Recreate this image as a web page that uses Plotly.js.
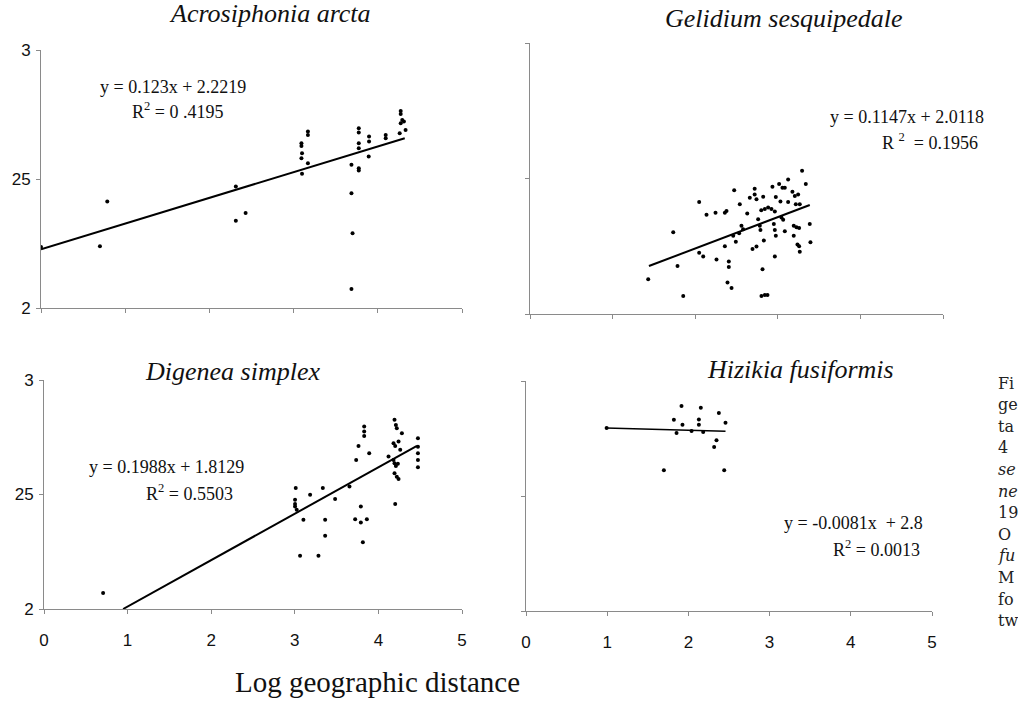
<!DOCTYPE html>
<html><head><meta charset="utf-8">
<script src="https://cdn.plot.ly/plotly-3.0.1.min.js"></script>
<style>html,body{margin:0;padding:0;background:#fff;overflow:hidden}</style>
</head><body><div id="chart" style="width:1018px;height:701px"></div>
<script>
// Acrosiphonia arcta
const acroX = [0,0.70,0.787,2.314,2.314,2.43,3.093,3.093,3.10,3.093,3.17,3.17,3.17,3.10,3.687,3.687,3.70,3.687,3.774,3.774,3.774,3.774,3.774,3.774,3.896,3.896,3.892,4.094,4.094,4.272,4.272,4.272,4.29,4.31,4.33,4.26];
const acroY = [2.236,2.239,2.413,2.471,2.338,2.368,2.639,2.628,2.60,2.58,2.684,2.671,2.561,2.52,2.555,2.445,2.29,2.074,2.697,2.68,2.639,2.619,2.542,2.533,2.665,2.645,2.587,2.671,2.658,2.764,2.752,2.716,2.729,2.723,2.69,2.677];
const acroFitX = [0, 4.32];
const acroFitY = [2.228, 2.658];

// Gelidium sesquipedale
const geliX = [1.431,1.734,1.786,1.855,2.048,2.048,2.097,2.137,2.246,2.258,2.359,2.379,2.359,2.391,2.44,2.407,2.407,2.472,2.46,2.492,2.54,2.532,2.56,2.58,2.63,2.661,2.694,2.742,2.72,2.72,2.742,2.762,2.782,2.79,2.823,2.815,2.802,2.843,2.875,2.831,2.80,2.843,2.883,2.923,2.964,2.935,2.976,3.016,3.032,3.056,3.085,3.125,2.952,2.964,2.976,2.964,3.044,3.065,3.085,3.125,3.177,3.206,3.218,3.193,3.226,3.258,3.193,3.238,3.258,3.266,3.246,3.266,3.294,3.339,3.387,3.395];
const geliY = [2.128,2.302,2.177,2.066,2.413,2.226,2.212,2.366,2.374,2.201,2.374,2.380,2.25,2.116,2.096,2.194,2.173,2.457,2.289,2.267,2.405,2.298,2.326,2.313,2.371,2.429,2.24,2.249,2.462,2.441,2.423,2.35,2.326,2.31,2.433,2.165,2.066,2.07,2.07,2.271,2.383,2.387,2.393,2.387,2.378,2.47,2.432,2.48,2.415,2.466,2.466,2.496,2.332,2.31,2.289,2.212,2.356,2.348,2.305,2.413,2.451,2.435,2.405,2.326,2.32,2.317,2.289,2.256,2.25,2.23,2.441,2.405,2.529,2.48,2.332,2.265];
const geliFitX = [1.44, 3.387];
const geliFitY = [2.177, 2.402];

// Digenea simplex
const digeX = [0.707,3.011,3.003,3.003,3.023,3.003,3.103,3.183,3.063,3.283,3.335,3.363,3.363,3.482,3.654,3.734,3.762,3.722,3.79,3.79,3.862,3.814,3.83,3.83,3.83,3.89,4.121,4.193,4.209,4.22,4.181,4.201,4.241,4.281,4.261,4.193,4.209,4.233,4.193,4.22,4.241,4.201,4.181,4.473,4.473,4.473,4.473,4.473];
const digeY = [2.07,2.528,2.459,2.448,2.433,2.477,2.39,2.499,2.233,2.233,2.528,2.39,2.32,2.48,2.535,2.651,2.712,2.392,2.448,2.378,2.392,2.291,2.797,2.775,2.756,2.68,2.666,2.826,2.804,2.789,2.724,2.712,2.731,2.767,2.695,2.637,2.625,2.634,2.593,2.578,2.568,2.458,2.651,2.746,2.709,2.68,2.651,2.619];
const digeFitX = [0.946, 4.461];
const digeFitY = [2.0, 2.712];

// Hizikia fusiformis
const hiziX = [0.993,1.821,1.915,1.927,1.854,1.698,2.129,2.129,2.153,2.182,2.375,2.457,2.346,2.317,2.441,2.039];
const hiziY = [2.796,2.832,2.891,2.81,2.774,2.612,2.833,2.81,2.884,2.778,2.861,2.819,2.742,2.713,2.612,2.783];
const hiziFitX = [0.984, 2.457];
const hiziFitY = [2.796, 2.781];

const yTickVals = [2, 2.5, 3];
const yTickText = ["2", "25", "3"];
const xTickVals = [0, 1, 2, 3, 4, 5];
const xTickText = ["0", "1", "2", "3", "4", "5"];

const titles = ["Acrosiphonia arcta", "Gelidium sesquipedale", "Digenea simplex", "Hizikia fusiformis"];
const xAxisTitle = "Log geographic distance";
const captionLines = ["Fi", "ge", "ta", "4", "se", "ne", "19", "O", "fu", "M", "fo", "tw"];
const captionItalic = [false,false,false,false,true,true,false,false,true,false,false,false];

const W = 1018, H = 701;
const px = v => v / W;
const py = v => 1 - v / H;

function mk(x, y, xa, ya) {
  return {x: x, y: y, xaxis: xa, yaxis: ya, type: 'scatter', mode: 'markers',
    marker: {color: '#000', size: 4, symbol: 'circle'}, hoverinfo: 'skip', showlegend: false};
}
function ln(x, y, xa, ya, w) {
  return {x: x, y: y, xaxis: xa, yaxis: ya, type: 'scatter', mode: 'lines',
    line: {color: '#000', width: w}, hoverinfo: 'skip', showlegend: false};
}

const data = [
  mk(acroX, acroY, 'x', 'y'), ln(acroFitX, acroFitY, 'x', 'y', 2),
  mk(geliX, geliY, 'x2', 'y2'), ln(geliFitX, geliFitY, 'x2', 'y2', 2),
  mk(digeX, digeY, 'x3', 'y3'), ln(digeFitX, digeFitY, 'x3', 'y3', 2),
  mk(hiziX, hiziY, 'x4', 'y4'), ln(hiziFitX, hiziFitY, 'x4', 'y4', 1.5)
];

const tickFont = {family: 'Liberation Sans, Arial, sans-serif', size: 17, color: '#111'};
function xa(dom, anchor, labels) {
  return {domain: dom, anchor: anchor, range: [0, 5], showgrid: false, zeroline: false,
    showline: true, linecolor: '#8a8a8a', linewidth: 1, ticks: 'outside', ticklen: 4, tickcolor: '#8a8a8a',
    tickvals: xTickVals, ticktext: xTickText, showticklabels: labels, tickfont: tickFont,
    ticklabelstandoff: 12, fixedrange: true};
}
function ya(dom, anchor, labels) {
  return {domain: dom, anchor: anchor, range: [2, 3], showgrid: false, zeroline: false,
    showline: true, linecolor: '#8a8a8a', linewidth: 1, ticks: 'outside', ticklen: 4, tickcolor: '#8a8a8a',
    tickvals: yTickVals, ticktext: yTickText, showticklabels: labels, tickfont: tickFont,
    ticklabelstandoff: 2, fixedrange: true};
}

const serif = 'Liberation Serif, Times New Roman, serif';
const ann = [];
function txt(text, x, y, size, opts) {
  ann.push(Object.assign({text: text, xref: 'paper', yref: 'paper', x: px(x), y: py(y),
    xanchor: 'center', yanchor: 'middle', showarrow: false,
    font: {family: serif, size: size, color: '#111'}}, opts || {}));
}
txt('<i>' + titles[0] + '</i>', 270, 13, 26);
txt('<i>' + titles[1] + '</i>', 784, 19, 26);
txt('<i>' + titles[2] + '</i>', 232, 371, 26);
txt('<i>' + titles[3] + '</i>', 800, 370, 26);
txt(xAxisTitle, 377, 682, 29);

txt('y = 0.123x + 2.2219', 173, 87, 18);
txt('R<sup>2</sup> = 0 .4195', 177, 110, 18);
txt('y = 0.1147x + 2.0118', 828, 117, 18, {xanchor: 'left'});
txt('R <sup>2</sup>  = 0.1956', 930, 142, 18);
txt('y = 0.1988x + 1.8129', 166, 467, 18);
txt('R<sup>2</sup> = 0.5503', 189, 492, 18);
txt('y = -0.0081x  + 2.8', 853, 523, 18);
txt('R<sup>2</sup> = 0.0013', 876, 548, 18);

captionLines.forEach((s, i) => {
  txt(captionItalic[i] ? '<i>' + s + '</i>' : s, 996, 383 + i * 21.6, 16,
    {xanchor: 'left', font: {family: 'DejaVu Serif, serif', size: 16, color: '#222'}});
});

const layout = {
  width: W, height: H, margin: {l: 0, r: 0, t: 0, b: 0},
  paper_bgcolor: '#fff', plot_bgcolor: '#fff', showlegend: false,
  xaxis: xa([px(41), px(462)], 'y', false),
  yaxis: ya([py(308), py(50)], 'x', true),
  xaxis2: xa([px(530), px(943)], 'y2', false),
  yaxis2: ya([py(314), py(43)], 'x2', false),
  xaxis3: xa([px(44), px(462)], 'y3', true),
  yaxis3: ya([py(609), py(380)], 'x3', true),
  xaxis4: xa([px(526), px(932)], 'y4', true),
  yaxis4: ya([py(611), py(381)], 'x4', false),
  annotations: ann
};

Plotly.newPlot('chart', data, layout, {staticPlot: true, displayModeBar: false});
</script>
</body></html>
